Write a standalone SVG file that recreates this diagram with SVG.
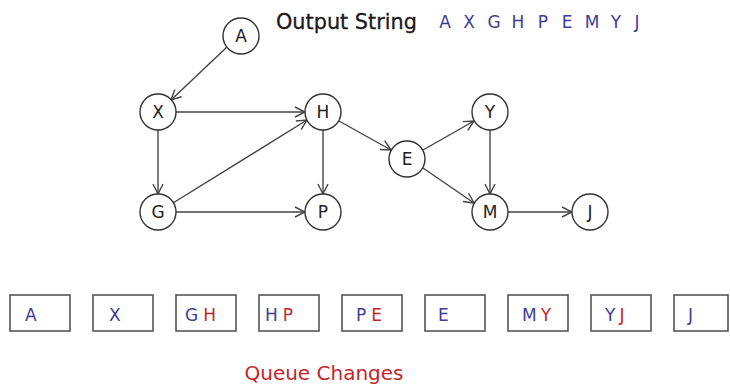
<svg xmlns="http://www.w3.org/2000/svg" width="730" height="385" viewBox="0 0 730 385">
<style>
.node circle{fill:#fff;stroke:#333;stroke-width:1.4}
.node text{font-family:"DejaVu Sans",Verdana,sans-serif;font-size:17px;fill:#222;text-anchor:middle}
.edge{stroke:#444;stroke-width:1.4;fill:none;marker-end:url(#arr)}
.box rect{fill:#fff;stroke:#555;stroke-width:1.6}
.q{font-family:"DejaVu Sans",Verdana,sans-serif;font-size:17px}
.b{fill:#3d3d96}
.r{fill:#c4262c}
</style>
<defs>
<marker id="arr" viewBox="0 0 12 12" refX="11" refY="6" markerWidth="12" markerHeight="12" markerUnits="userSpaceOnUse" orient="auto">
<path d="M1,1 L11,6 L1,11" fill="none" stroke="#444" stroke-width="1.4"/>
</marker>
</defs>
<rect width="730" height="385" fill="#fff"/>
<text x="276" y="29" font-family="DejaVu Sans,Verdana,sans-serif" font-size="20.8" fill="#1a1a1a" stroke="#1a1a1a" stroke-width="0.3">Output String</text>
<text y="28" font-family="DejaVu Sans,Verdana,sans-serif" font-size="17" fill="#3d3d96" text-anchor="middle"><tspan x="445">A</tspan><tspan x="469">X</tspan><tspan x="494">G</tspan><tspan x="518">H</tspan><tspan x="543">P</tspan><tspan x="567">E</tspan><tspan x="592">M</tspan><tspan x="616">Y</tspan><tspan x="637">J</tspan></text>
<g id="connectors">
<line class="edge" x1="227" y1="47" x2="171" y2="100"/>
<line class="edge" x1="176" y1="112" x2="305" y2="112"/>
<line class="edge" x1="158" y1="130" x2="158" y2="194"/>
<line class="edge" x1="173" y1="203" x2="307" y2="120"/>
<line class="edge" x1="323" y1="130" x2="323" y2="194"/>
<line class="edge" x1="176" y1="212" x2="305" y2="212"/>
<line class="edge" x1="339" y1="121" x2="391" y2="150"/>
<line class="edge" x1="423" y1="150" x2="474" y2="121"/>
<line class="edge" x1="423" y1="168" x2="474" y2="203"/>
<line class="edge" x1="490" y1="130" x2="490" y2="194"/>
<line class="edge" x1="508" y1="212" x2="572" y2="212"/>
</g>
<g id="node-A" class="node"><circle cx="241" cy="36" r="18"/><text x="241" y="42">A</text></g>
<g id="node-X" class="node"><circle cx="158" cy="112" r="18"/><text x="158" y="118">X</text></g>
<g id="node-H" class="node"><circle cx="323" cy="112" r="18"/><text x="323" y="118">H</text></g>
<g id="node-G" class="node"><circle cx="158" cy="212" r="18"/><text x="158" y="218">G</text></g>
<g id="node-P" class="node"><circle cx="323" cy="212" r="18"/><text x="323" y="218">P</text></g>
<g id="node-E" class="node"><circle cx="407" cy="159" r="18"/><text x="407" y="165">E</text></g>
<g id="node-Y" class="node"><circle cx="490" cy="112" r="18"/><text x="490" y="118">Y</text></g>
<g id="node-M" class="node"><circle cx="490" cy="212" r="18"/><text x="490" y="218">M</text></g>
<g id="node-J" class="node"><circle cx="590" cy="212" r="18"/><text x="590" y="218">J</text></g>
<g id="queue">
<g class="box"><rect x="10" y="295" width="60" height="36"/><text class="q b" x="25" y="321">A</text></g>
<g class="box"><rect x="93" y="295" width="60" height="36"/><text class="q b" x="109" y="321">X</text></g>
<g class="box"><rect x="176" y="295" width="60" height="36"/><text class="q" x="185" y="321"><tspan class="b">G</tspan><tspan class="r" dx="5">H</tspan></text></g>
<g class="box"><rect x="259" y="295" width="60" height="36"/><text class="q" x="265" y="321"><tspan class="b">H</tspan><tspan class="r" dx="5">P</tspan></text></g>
<g class="box"><rect x="342" y="295" width="60" height="36"/><text class="q" x="356" y="321"><tspan class="b">P</tspan><tspan class="r" dx="5">E</tspan></text></g>
<g class="box"><rect x="425" y="295" width="60" height="36"/><text class="q b" x="438" y="321">E</text></g>
<g class="box"><rect x="508" y="295" width="60" height="36"/><text class="q" x="522" y="321"><tspan class="b">M</tspan><tspan class="r" dx="4">Y</tspan></text></g>
<g class="box"><rect x="591" y="295" width="60" height="36"/><text class="q" x="605" y="321"><tspan class="b">Y</tspan><tspan class="r" dx="4">J</tspan></text></g>
<g class="box"><rect x="674" y="295" width="54" height="36"/><text class="q b" x="688" y="321">J</text></g>
</g>
<text x="324" y="380" font-family="DejaVu Sans,Verdana,sans-serif" font-size="20" fill="#c4262c" text-anchor="middle">Queue Changes</text>
</svg>
